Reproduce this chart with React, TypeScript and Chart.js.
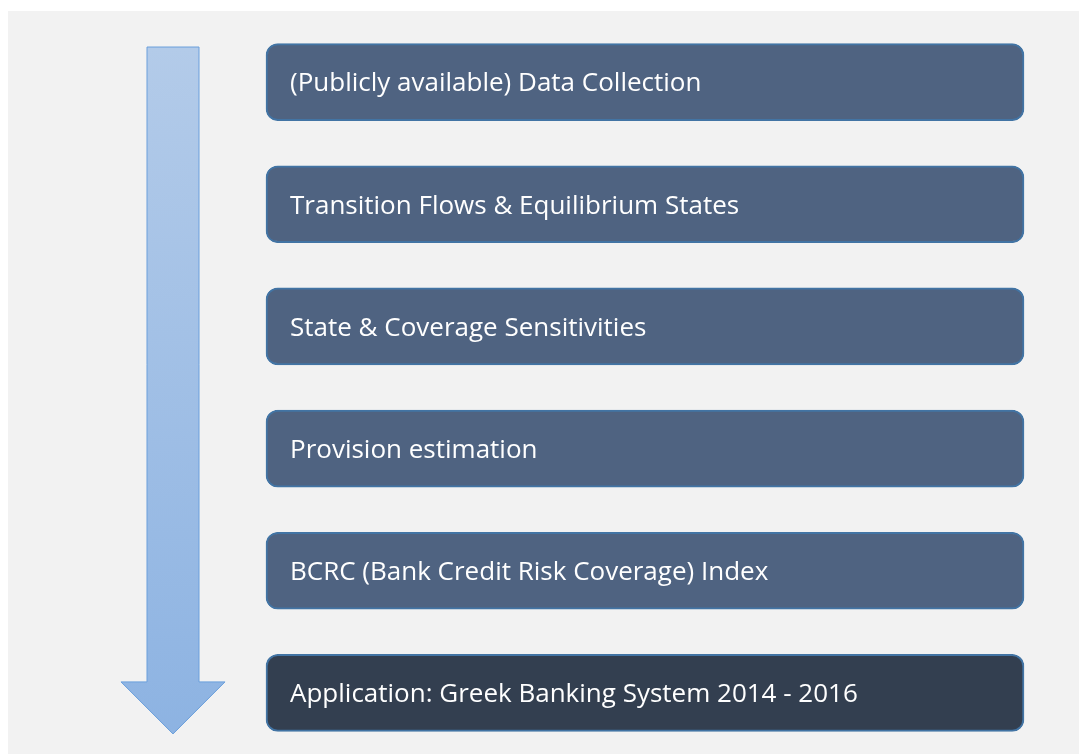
import React, { useEffect, useRef } from "react";
import { Chart, registerables } from "chart.js";

Chart.register(...registerables);

const steps = [
  "(Publicly available) Data Collection",
  "Transition Flows & Equilibrium States",
  "State & Coverage Sensitivities",
  "Provision estimation",
  "BCRC (Bank Credit Risk Coverage) Index",
  "Application: Greek Banking System 2014 - 2016",
];
const stepStart = [258, 258, 258, 258, 258, 258];
const stepEnd = [1016, 1016, 1016, 1016, 1016, 1016];
const stepColors = ["#4f6381", "#4f6381", "#4f6381", "#4f6381", "#4f6381", "#333f50"];

// arrow in x-scale units; y in category units (fractional index)
const arrowShaft = [139, 191];
const arrowHead = [113, 217];
const arrowTop = -0.287;
const arrowHeadStart = 4.91;
const arrowTip = 5.336;

const arrowPlugin = {
  id: "flowArrow",
  beforeDatasetsDraw(chart: any) {
    const { ctx, scales } = chart;
    const x = scales.x;
    const y = scales.y;
    const yp = (v: number) => y.getPixelForValue(v);
    const s0 = x.getPixelForValue(arrowShaft[0]);
    const s1 = x.getPixelForValue(arrowShaft[1]);
    const h0 = x.getPixelForValue(arrowHead[0]);
    const h1 = x.getPixelForValue(arrowHead[1]);
    const top = yp(arrowTop);
    const hs = yp(arrowHeadStart);
    const tip = yp(arrowTip);
    ctx.save();
    const g = ctx.createLinearGradient(0, top, 0, tip);
    g.addColorStop(0, "#b3cbe9");
    g.addColorStop(1, "#8db3e2");
    ctx.beginPath();
    ctx.moveTo(s0, top);
    ctx.lineTo(s1, top);
    ctx.lineTo(s1, hs);
    ctx.lineTo(h1, hs);
    ctx.lineTo((h0 + h1) / 2, tip);
    ctx.lineTo(h0, hs);
    ctx.lineTo(s0, hs);
    ctx.closePath();
    ctx.fillStyle = g;
    ctx.fill();
    ctx.lineWidth = 1;
    ctx.strokeStyle = "#6a9fdc";
    ctx.stroke();
    ctx.restore();
  },
};

const labelPlugin = {
  id: "stepLabels",
  afterDatasetsDraw(chart: any) {
    const { ctx } = chart;
    const meta = chart.getDatasetMeta(0);
    ctx.save();
    ctx.fillStyle = "#ffffff";
    ctx.font = "26px 'Open Sans'";
    ctx.textBaseline = "middle";
    ctx.textAlign = "left";
    meta.data.forEach((bar: any, i: number) => {
      const left = Math.min(bar.x, bar.base);
      ctx.fillText(steps[i], left + 24, bar.y + 2);
    });
    ctx.restore();
  },
};

const bgPlugin = {
  id: "bg",
  beforeDraw(chart: any) {
    const { ctx, width, height } = chart;
    ctx.save();
    ctx.fillStyle = "#f2f2f2";
    ctx.fillRect(0, 0, width, height);
    ctx.restore();
  },
};

export default function App() {
  const ref = useRef<HTMLCanvasElement>(null);
  useEffect(() => {
    if (!ref.current) return;
    const chart = new Chart(ref.current, {
      type: "bar",
      data: {
        labels: steps,
        datasets: [
          {
            data: steps.map((_, i) => [stepStart[i], stepEnd[i]]) as any,
            backgroundColor: stepColors,
            borderColor: "#4274a4",
            borderWidth: 2,
            borderSkipped: false,
            borderRadius: 12,
            barThickness: 77,
          },
        ],
      },
      options: {
        indexAxis: "y",
        animation: false,
        responsive: false,
        maintainAspectRatio: false,
        layout: { padding: { top: 10, bottom: 0, left: 0, right: 0 } },
        plugins: { legend: { display: false }, tooltip: { enabled: false } },
        scales: {
          x: { type: "linear", min: 0, max: 1071, display: false },
          y: { type: "category", display: false, offset: true },
        },
      },
      plugins: [bgPlugin, arrowPlugin, labelPlugin],
    });
    return () => chart.destroy();
  }, []);
  return (
    <div style={{ position: "absolute", left: 8, top: 11 }}>
      <canvas ref={ref} width={1071} height={743} style={{ display: "block" }} />
    </div>
  );
}
